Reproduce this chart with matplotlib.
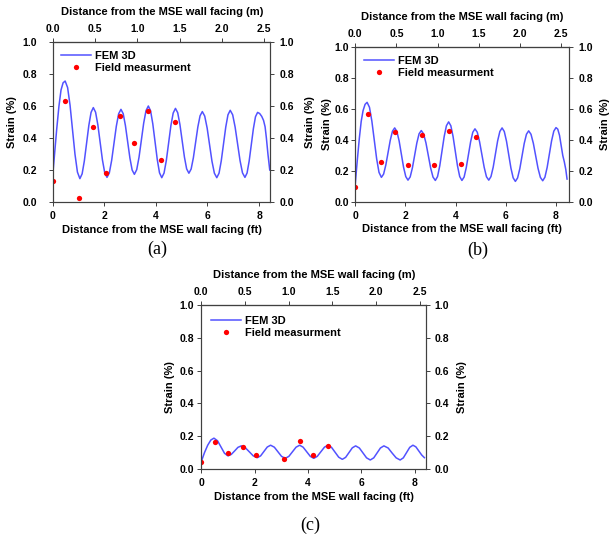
import matplotlib
matplotlib.use("Agg")
import matplotlib.pyplot as plt

plt.rcParams["font.family"] = ["Liberation Sans", "DejaVu Sans"]
plt.rcParams["font.weight"] = "bold"

FT_TO_M = 0.3048

# Panel (a) - FEM 3D curve
fem_a_x = [0, 0.08, 0.16, 0.25, 0.33, 0.41, 0.49,
           0.585, 0.68, 0.775, 0.87, 0.965, 1.06,
           1.147, 1.233, 1.32, 1.407, 1.493, 1.58,
           1.668, 1.757, 1.845, 1.933, 2.022, 2.11,
           2.20, 2.29, 2.38, 2.47, 2.56, 2.65,
           2.737, 2.823, 2.91, 2.997, 3.083, 3.17,
           3.26, 3.35, 3.44, 3.53, 3.62, 3.71,
           3.797, 3.883, 3.97, 4.057, 4.143, 4.23,
           4.318, 4.407, 4.495, 4.583, 4.672, 4.76,
           4.847, 4.933, 5.02, 5.107, 5.193, 5.28,
           5.367, 5.453, 5.54, 5.627, 5.713, 5.80,
           5.893, 5.987, 6.08, 6.173, 6.267, 6.36,
           6.447, 6.533, 6.62, 6.707, 6.793, 6.88,
           6.975, 7.07, 7.165, 7.26, 7.355, 7.45,
           7.532, 7.613, 7.695, 7.777, 7.858, 7.94,
           8.02, 8.10, 8.17, 8.23, 8.28, 8.34, 8.41]
fem_a_y = [0.15, 0.30, 0.45, 0.60, 0.70, 0.745, 0.756,
           0.715, 0.604, 0.451, 0.299, 0.187, 0.146,
           0.176, 0.257, 0.368, 0.479, 0.560, 0.59,
           0.561, 0.481, 0.372, 0.263, 0.183, 0.154,
           0.182, 0.260, 0.3665, 0.473, 0.551, 0.579,
           0.552, 0.4775, 0.376, 0.2745, 0.200, 0.173,
           0.202, 0.280, 0.3865, 0.493, 0.571, 0.60,
           0.570, 0.488, 0.376, 0.264, 0.182, 0.152,
           0.181, 0.260, 0.3685, 0.477, 0.556, 0.585,
           0.558, 0.484, 0.3825, 0.281, 0.207, 0.18,
           0.206, 0.276, 0.3725, 0.469, 0.539, 0.565,
           0.537, 0.462, 0.3585, 0.255, 0.180, 0.152,
           0.180, 0.257, 0.3625, 0.468, 0.545, 0.573,
           0.545, 0.468, 0.3635, 0.259, 0.182, 0.154,
           0.181, 0.2555, 0.357, 0.4585, 0.533, 0.56,
           0.553, 0.535, 0.51, 0.47, 0.40, 0.30, 0.20]
field_a_x = [0, 0.49, 1.01, 1.56, 2.06, 2.63, 3.14, 3.69, 4.19, 4.75]
field_a_y = [0.13, 0.63, 0.027, 0.47, 0.18, 0.54, 0.37, 0.57, 0.26, 0.50]

# Panel (b)
fem_b_x = [0, 0.08, 0.16, 0.235, 0.31, 0.39, 0.47,
           0.565, 0.66, 0.755, 0.85, 0.945, 1.04,
           1.128, 1.217, 1.305, 1.393, 1.482, 1.57,
           1.658, 1.747, 1.835, 1.923, 2.012, 2.10,
           2.188, 2.277, 2.365, 2.453, 2.542, 2.63,
           2.723, 2.817, 2.91, 3.003, 3.097, 3.19,
           3.278, 3.367, 3.455, 3.543, 3.632, 3.72,
           3.808, 3.897, 3.985, 4.073, 4.162, 4.25,
           4.337, 4.423, 4.51, 4.597, 4.683, 4.77,
           4.862, 4.953, 5.045, 5.137, 5.228, 5.32,
           5.408, 5.497, 5.585, 5.673, 5.762, 5.85,
           5.938, 6.027, 6.115, 6.203, 6.292, 6.38,
           6.468, 6.557, 6.645, 6.733, 6.822, 6.91,
           7.003, 7.097, 7.19, 7.283, 7.377, 7.47,
           7.558, 7.647, 7.735, 7.823, 7.912, 8.0,
           8.07, 8.14, 8.20, 8.27, 8.33, 8.39, 8.44]
fem_b_y = [0.12, 0.27, 0.41, 0.52, 0.59, 0.63, 0.643,
           0.611, 0.522, 0.401, 0.280, 0.191, 0.159,
           0.180, 0.239, 0.3185, 0.398, 0.457, 0.478,
           0.455, 0.394, 0.3095, 0.225, 0.164, 0.141,
           0.162, 0.221, 0.301, 0.381, 0.440, 0.461,
           0.439, 0.3805, 0.300, 0.2195, 0.161, 0.139,
           0.164, 0.2335, 0.328, 0.4225, 0.492, 0.517,
           0.492, 0.4225, 0.328, 0.2335, 0.164, 0.139,
           0.161, 0.222, 0.3055, 0.389, 0.450, 0.472,
           0.450, 0.389, 0.3065, 0.224, 0.163, 0.141,
           0.164, 0.225, 0.3095, 0.394, 0.455, 0.478,
           0.455, 0.392, 0.3055, 0.219, 0.156, 0.133,
           0.155, 0.2145, 0.296, 0.3775, 0.437, 0.459,
           0.437, 0.3785, 0.298, 0.2175, 0.159, 0.137,
           0.160, 0.223, 0.3085, 0.394, 0.457, 0.48,
           0.47, 0.43, 0.37, 0.30, 0.26, 0.21, 0.148]
field_b_x = [0, 0.50, 1.02, 1.58, 2.09, 2.66, 3.15, 3.72, 4.23, 4.80]
field_b_y = [0.094, 0.57, 0.26, 0.45, 0.24, 0.43, 0.24, 0.46, 0.248, 0.422]

# Panel (c)
fem_c_x = [0, 0.12, 0.24, 0.36, 0.475, 0.61, 0.74, 0.87, 1.0, 1.125, 1.25, 1.375, 1.5,
           1.65, 1.80, 1.95, 2.1, 2.225, 2.35, 2.475, 2.6, 2.74, 2.875, 3.01, 3.15,
           3.285, 3.42, 3.555, 3.69, 3.82, 3.955, 4.09, 4.22, 4.35, 4.485, 4.62, 4.75,
           4.885, 5.02, 5.155, 5.29, 5.415, 5.54, 5.665, 5.79, 5.93, 6.065, 6.20, 6.34,
           6.47, 6.595, 6.72, 6.85, 7.01, 7.155, 7.31, 7.46, 7.58, 7.70, 7.82, 7.94,
           8.05, 8.16, 8.27, 8.37]
fem_c_y = [0.045, 0.10, 0.145, 0.177, 0.188, 0.172, 0.134, 0.096, 0.08, 0.089, 0.11, 0.132, 0.141,
           0.130, 0.105, 0.080, 0.069, 0.080, 0.107, 0.134, 0.145, 0.133, 0.105, 0.077, 0.065,
           0.077, 0.105, 0.133, 0.145, 0.133, 0.105, 0.077, 0.065, 0.077, 0.105, 0.133, 0.145,
           0.132, 0.102, 0.072, 0.059, 0.071, 0.100, 0.129, 0.141, 0.128, 0.098, 0.068, 0.055,
           0.068, 0.098, 0.128, 0.141, 0.128, 0.098, 0.068, 0.055, 0.068, 0.100, 0.132, 0.145,
           0.135, 0.11, 0.085, 0.069]
field_c_x = [0, 0.50, 1.0, 1.55, 2.07, 3.12, 3.69, 4.2, 4.75]
field_c_y = [0.042, 0.165, 0.096, 0.135, 0.085, 0.059, 0.172, 0.085, 0.14]

ft_ticks = [0, 2, 4, 6, 8]
m_ticks = [0.0, 0.5, 1.0, 1.5, 2.0, 2.5]
strain_ticks = [0.0, 0.2, 0.4, 0.6, 0.8, 1.0]

W, H = 614, 535
LINE_COLOR = "#5252ff"
SPINE_COLOR = "#404040"

fig = plt.figure(figsize=(W / 100, H / 100), dpi=100)


def px_text(x, y, s, **kw):
    fig.text(x / W, 1 - y / H, s, ha="center", va="center", **kw)


def style_ticks(a, pad):
    a.tick_params(direction="out", length=3, width=0.7, color=SPINE_COLOR, labelsize=7.5, pad=pad)


def draw_panel(box, fem_x, fem_y, fld_x, fld_y, xmax, pads, labels, legend_px, caption):
    left, top, right, bottom = box
    ax = fig.add_axes([left / W, 1 - bottom / H, (right - left) / W, (bottom - top) / H])
    ax.plot(fem_x, fem_y, color=LINE_COLOR, linewidth=1.1, label="FEM 3D")
    ax.plot(fld_x, fld_y, linestyle="none", marker="o", color="#ff0000",
            markersize=3.8, markeredgewidth=0, label="Field measurment")
    ax.set_xlim(0, xmax)
    ax.set_ylim(0, 1.0)
    ax.set_xticks(ft_ticks)
    ax.set_yticks(strain_ticks)
    ax.set_yticklabels([f"{t:.1f}" for t in strain_ticks])
    for sp in ax.spines.values():
        sp.set_color(SPINE_COLOR)
        sp.set_linewidth(0.8)
    style_ticks(ax, 3.5)
    ax.tick_params(axis="y", pad=pads[0])

    # right-hand strain axis
    axr = ax.twinx()
    axr.set_ylim(0, 1.0)
    axr.set_yticks(strain_ticks)
    axr.set_yticklabels([f"{t:.1f}" for t in strain_ticks])
    for sp in axr.spines.values():
        sp.set_color(SPINE_COLOR)
        sp.set_linewidth(0.8)
    style_ticks(axr, pads[1])

    # top metre axis
    sec = ax.secondary_xaxis("top", functions=(lambda v: v * FT_TO_M, lambda v: v / FT_TO_M))
    sec.set_xticks(m_ticks)
    sec.set_xticklabels([f"{t:.1f}" for t in m_ticks])
    sec.spines["top"].set_color(SPINE_COLOR)
    sec.spines["top"].set_linewidth(0.8)
    style_ticks(sec, 2.5)

    leg_x, leg_y = legend_px
    ax.legend(loc="upper left", frameon=False, fontsize=8,
              bbox_to_anchor=((leg_x - left) / (right - left), 1 - (leg_y - top) / (bottom - top)),
              borderaxespad=0, borderpad=0, handlelength=2.7, handletextpad=0.35,
              labelspacing=0.2, numpoints=1)

    ylx, yrx, yly, txy, bxy, xcx = labels
    px_text(ylx, yly, "Strain (%)", rotation=90, fontsize=8, fontweight="bold")
    px_text(yrx, yly, "Strain (%)", rotation=90, fontsize=8, fontweight="bold")
    px_text(xcx, txy, "Distance from the MSE wall facing (m)", fontsize=8, fontweight="bold")
    px_text(xcx, bxy, "Distance from the MSE wall facing (ft)", fontsize=8, fontweight="bold")
    cap_text, cx, cy = caption
    px_text(cx, cy, cap_text, fontsize=13, fontweight="normal",
            family=["Liberation Serif", "DejaVu Serif"])
    return ax


ax_a = draw_panel((52.5, 42, 270, 202), fem_a_x, fem_a_y, field_a_x, field_a_y, 8.42, (8, 3.6),
                  (12, 310, 122, 12, 230, 162), (61, 51), ("(a)", 157, 249))
ax_b = draw_panel((355.3, 47, 569.3, 202), fem_b_x, fem_b_y, field_b_x, field_b_y, 8.53, (1.5, 3.6),
                  (327, 605, 124, 17, 229, 462), (364, 56), ("(b)", 478, 250))
ax_c = draw_panel((201.3, 305, 426, 469), fem_c_x, fem_c_y, field_c_x, field_c_y, 8.43, (2, 3),
                  (170, 462, 387, 275, 497, 314), (211, 316), ("(c)", 310, 525))

fig.savefig("out.png", dpi=100)
